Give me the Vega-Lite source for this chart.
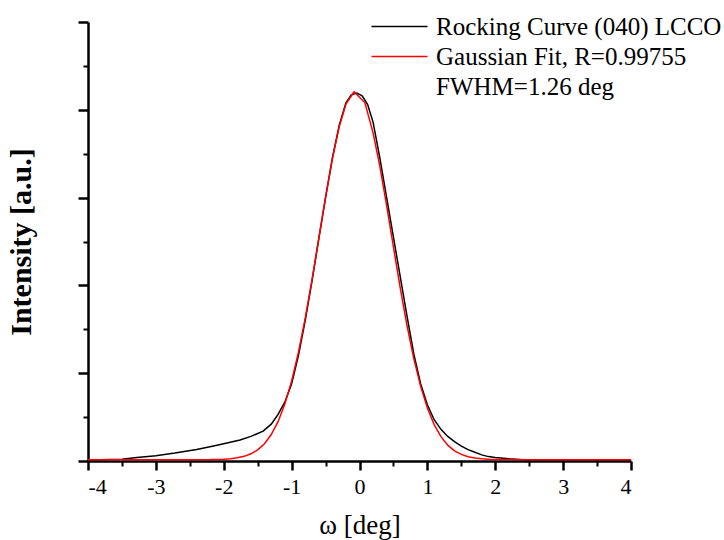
{
  "$schema": "https://vega.github.io/schema/vega-lite/v6.json",
  "autosize": {"type": "none"},
  "padding": {"left": 88, "top": 22, "right": 93, "bottom": 79},
  "width": 543,
  "height": 439,
  "background": "white",
  "config": {
    "view": {"stroke": null},
    "font": "Liberation Serif, Times New Roman, serif",
    "axis": {"grid": false, "domainColor": "black", "tickColor": "black", "labelColor": "black", "titleColor": "black", "labelFont": "Liberation Serif, Times New Roman, serif", "titleFont": "Liberation Serif, Times New Roman, serif"},
    "legend": {"labelFont": "Liberation Serif, Times New Roman, serif"}
  },
  "data": {"values": [
    {"s":"rc","x":-4.0,"y":0.01},{"s":"rc","x":-3.5,"y":0.02},{"s":"rc","x":-3.28,"y":0.04},{"s":"rc","x":-3.0,"y":0.06},{"s":"rc","x":-2.72,"y":0.09},{"s":"rc","x":-2.4,"y":0.13},{"s":"rc","x":-2.15,"y":0.17},{"s":"rc","x":-1.92,"y":0.21},{"s":"rc","x":-1.76,"y":0.24},{"s":"rc","x":-1.6,"y":0.28},{"s":"rc","x":-1.42,"y":0.34},{"s":"rc","x":-1.3,"y":0.42},{"s":"rc","x":-1.2,"y":0.53},{"s":"rc","x":-1.1,"y":0.67},{"s":"rc","x":-1.0,"y":0.88},{"s":"rc","x":-0.9,"y":1.2},{"s":"rc","x":-0.8,"y":1.6},{"s":"rc","x":-0.7,"y":2.05},{"s":"rc","x":-0.6,"y":2.53},{"s":"rc","x":-0.5,"y":3.0},{"s":"rc","x":-0.4,"y":3.45},{"s":"rc","x":-0.3,"y":3.82},{"s":"rc","x":-0.2,"y":4.08},{"s":"rc","x":-0.12,"y":4.17},{"s":"rc","x":-0.04,"y":4.19},{"s":"rc","x":0.04,"y":4.16},{"s":"rc","x":0.12,"y":4.06},{"s":"rc","x":0.2,"y":3.86},{"s":"rc","x":0.3,"y":3.45},{"s":"rc","x":0.4,"y":3.0},{"s":"rc","x":0.5,"y":2.55},{"s":"rc","x":0.6,"y":2.1},{"s":"rc","x":0.7,"y":1.65},{"s":"rc","x":0.8,"y":1.22},{"s":"rc","x":0.9,"y":0.88},{"s":"rc","x":1.0,"y":0.64},{"s":"rc","x":1.1,"y":0.47},{"s":"rc","x":1.2,"y":0.36},{"s":"rc","x":1.3,"y":0.28},{"s":"rc","x":1.4,"y":0.22},{"s":"rc","x":1.5,"y":0.17},{"s":"rc","x":1.6,"y":0.13},{"s":"rc","x":1.7,"y":0.1},{"s":"rc","x":1.8,"y":0.07},{"s":"rc","x":1.9,"y":0.05},{"s":"rc","x":2.0,"y":0.04},{"s":"rc","x":2.2,"y":0.025},{"s":"rc","x":2.4,"y":0.015},{"s":"rc","x":2.7,"y":0.01},{"s":"rc","x":4.0,"y":0.01},
    {"s":"fit","x":-4.0,"y":0.015},{"s":"fit","x":-2.5,"y":0.015},{"s":"fit","x":-2.2,"y":0.016},{"s":"fit","x":-2.0,"y":0.021},{"s":"fit","x":-1.9,"y":0.026},{"s":"fit","x":-1.8,"y":0.036},{"s":"fit","x":-1.7,"y":0.053},{"s":"fit","x":-1.6,"y":0.082},{"s":"fit","x":-1.5,"y":0.127},{"s":"fit","x":-1.4,"y":0.197},{"s":"fit","x":-1.3,"y":0.301},{"s":"fit","x":-1.2,"y":0.448},{"s":"fit","x":-1.1,"y":0.649},{"s":"fit","x":-1.0,"y":0.91},{"s":"fit","x":-0.9,"y":1.237},{"s":"fit","x":-0.8,"y":1.625},{"s":"fit","x":-0.7,"y":2.064},{"s":"fit","x":-0.6,"y":2.533},{"s":"fit","x":-0.5,"y":3.003},{"s":"fit","x":-0.4,"y":3.439},{"s":"fit","x":-0.3,"y":3.804},{"s":"fit","x":-0.2,"y":4.064},{"s":"fit","x":-0.08,"y":4.205},{"s":"fit","x":0.08,"y":4.08},{"s":"fit","x":0.2,"y":3.738},{"s":"fit","x":0.3,"y":3.356},{"s":"fit","x":0.4,"y":2.91},{"s":"fit","x":0.5,"y":2.438},{"s":"fit","x":0.6,"y":1.973},{"s":"fit","x":0.7,"y":1.543},{"s":"fit","x":0.8,"y":1.166},{"s":"fit","x":0.9,"y":0.853},{"s":"fit","x":1.0,"y":0.604},{"s":"fit","x":1.1,"y":0.414},{"s":"fit","x":1.2,"y":0.277},{"s":"fit","x":1.3,"y":0.181},{"s":"fit","x":1.4,"y":0.116},{"s":"fit","x":1.5,"y":0.075},{"s":"fit","x":1.6,"y":0.049},{"s":"fit","x":1.7,"y":0.034},{"s":"fit","x":1.8,"y":0.025},{"s":"fit","x":1.9,"y":0.02},{"s":"fit","x":2.0,"y":0.018},{"s":"fit","x":2.5,"y":0.015},{"s":"fit","x":4.0,"y":0.015}
  ]},
  "layer": [
    {
      "mark": {"type": "line", "strokeWidth": 0, "strokeOpacity": 0},
      "encoding": {
        "x": {"field": "x", "type": "quantitative", "scale": {"domain": [-4, 4], "nice": false, "zero": false},
              "axis": {"orient": "bottom", "values": [-3.5,-2.5,-1.5,-0.5,0.5,1.5,2.5,3.5], "labels": false, "domain": false, "tickSize": 5, "tickWidth": 2, "title": null}},
        "y": {"field": "y", "type": "quantitative", "scale": {"domain": [0, 5], "nice": false},
              "axis": {"orient": "left", "values": [0.5,1.5,2.5,3.5,4.5], "labels": false, "domain": false, "tickSize": 5, "tickWidth": 2, "title": null}},
        "detail": {"field": "s"}
      }
    },
    {
      "mark": {"type": "line", "strokeWidth": 1.5},
      "encoding": {
        "x": {"field": "x", "type": "quantitative", "scale": {"domain": [-4, 4], "nice": false, "zero": false},
              "axis": {"orient": "bottom", "values": [-4,-3,-2,-1,0,1,2,3,4], "labelExpr": "datum.value", "labelFontSize": 22, "labelPadding": 6, "tickSize": 9, "tickWidth": 2.5, "domainWidth": 2.5, "title": "ω [deg]", "titleFontSize": 27, "titleFontWeight": "normal", "titlePadding": 15}},
        "y": {"field": "y", "type": "quantitative", "scale": {"domain": [0, 5], "nice": false},
              "axis": {"orient": "left", "values": [0,1,2,3,4,5], "labels": false, "tickSize": 10, "tickWidth": 2.5, "domainWidth": 2.5, "title": "Intensity [a.u.]", "titleFontSize": 30, "titleFontWeight": "bold", "titlePadding": 40}},
        "color": {"field": "s", "type": "nominal",
                  "scale": {"domain": ["rc", "fit", "fwhm"], "range": ["#000000", "#ff0000", "rgba(0,0,0,0)"]},
                  "legend": {"orient": "none", "legendX": 299, "legendY": -8, "title": null,
                             "symbolType": "M-4,0H4", "symbolSize": 196, "symbolStrokeWidth": 1.5, "symbolFillColor": "transparent",
                             "labelFontSize": 25, "labelColor": "black", "labelLimit": 400, "labelOffset": 24, "rowPadding": 4,
                             "labelExpr": "datum.value == 'rc' ? 'Rocking Curve (040) LCCO' : datum.value == 'fit' ? 'Gaussian Fit, R=0.99755' : 'FWHM=1.26 deg'"}}
      }
    }
  ],
  "resolve": {"axis": {"x": "independent", "y": "independent"}}
}
